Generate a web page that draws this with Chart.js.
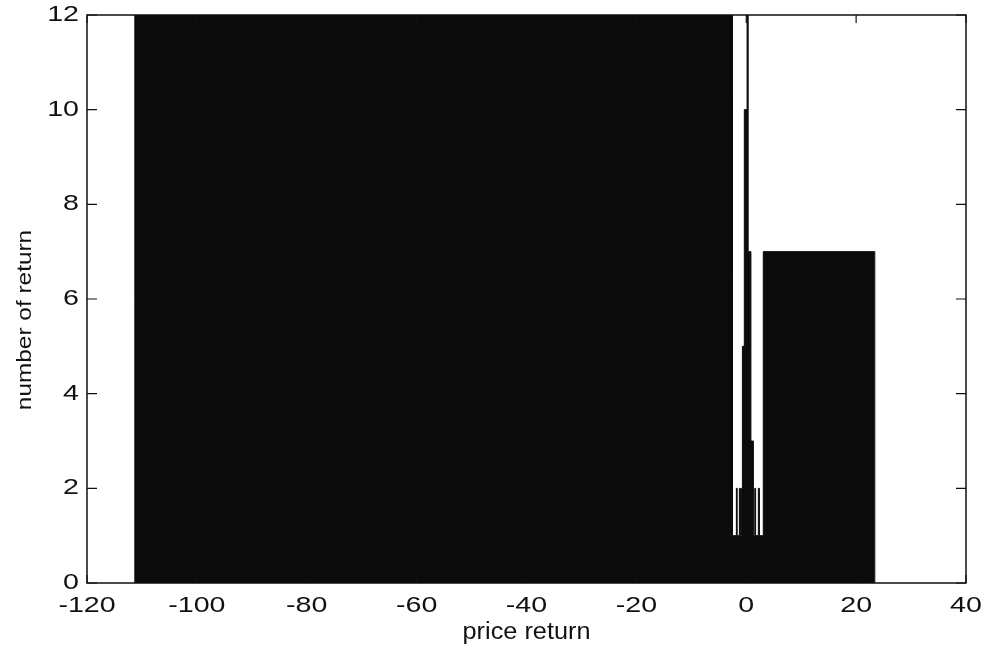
<!DOCTYPE html>
<html>
<head>
<meta charset="utf-8">
<script src="https://cdn.jsdelivr.net/npm/chart.js@4/dist/chart.umd.min.js"></script>
<style>
  html, body { margin: 0; padding: 0; background: #ffffff; }
  #wrap { width: 982px; height: 650px; }
</style>
</head>
<body>
<div id="wrap"><canvas id="hist" width="982" height="650"></canvas></div>
<script>
// Histogram of price returns: bin edges (one more than the counts) and counts per bin
const binEdges  = [-111.3, -2.5, -1.8, -1.65, -1.25, -1.05, -0.85, -0.7, -0.35, 0.15, 0.35, 0.85, 1.3, 1.55, 1.7, 2.2, 2.4, 3.1, 23.4];
const binCounts = [60, 1, 2, 1, 2, 1, 2, 5, 10, 13, 7, 3, 1, 2, 1, 2, 1, 7];
const xTicks = [-120, -100, -80, -60, -40, -20, 0, 20, 40];
const yTicks = [0, 2, 4, 6, 8, 10, 12];
const X_TITLE = 'price return';
const Y_TITLE = 'number of return';

const BAR = '#0b0b0b';
const INK = '#111111';
const FAMILY = '"Liberation Sans", Arial, Helvetica, sans-serif';
const TICK_SIZE = 22, XTITLE_SIZE = 23, YTITLE_SIZE = 20;
// Widening applied along the text direction, per font size
const STRETCH = { [TICK_SIZE]: 1.3, [XTITLE_SIZE]: 1.1, [YTITLE_SIZE]: 1.22 };

const canvas = document.getElementById('hist');
const ctx2d = canvas.getContext('2d');

// Labels are drawn wider along their baseline than the font's natural proportions
const plainFillText = ctx2d.fillText.bind(ctx2d);
ctx2d.fillText = function (text, x, y) {
  const m = /([\d.]+)px/.exec(this.font);
  const k = (m && STRETCH[Math.round(parseFloat(m[1]))]) || 1;
  this.save();
  this.translate(x, y);
  this.scale(k, 1);
  plainFillText(text, 0, 0);
  this.restore();
};

// Step outline of the histogram: each point holds its count until the next edge
const points = [{ x: binEdges[0], y: 0 }];
binCounts.forEach((c, i) => points.push({ x: binEdges[i], y: c }));
points.push({ x: binEdges[binEdges.length - 1], y: 0 });

// Boxed axes with tick marks pointing into the plot on all four sides,
// plus the vertical axis caption, set a little below the axis middle
const boxAxes = {
  id: 'boxAxes',
  afterDraw(chart) {
    const { ctx, chartArea: a, scales: { x, y } } = chart;
    ctx.save();
    ctx.strokeStyle = INK;
    ctx.lineWidth = 1.5;
    ctx.strokeRect(a.left, a.top, a.right - a.left, a.bottom - a.top);
    ctx.lineWidth = 1.2;
    ctx.beginPath();
    x.ticks.forEach(t => {
      const px = x.getPixelForValue(t.value);
      ctx.moveTo(px, a.bottom); ctx.lineTo(px, a.bottom - 8);
      ctx.moveTo(px, a.top);    ctx.lineTo(px, a.top + 8);
    });
    y.ticks.forEach(t => {
      const py = y.getPixelForValue(t.value);
      ctx.moveTo(a.left, py);  ctx.lineTo(a.left + 10, py);
      ctx.moveTo(a.right, py); ctx.lineTo(a.right - 10, py);
    });
    ctx.stroke();

    ctx.translate(a.left - 62, (a.top + a.bottom) / 2 + 21);
    ctx.rotate(-Math.PI / 2);
    ctx.font = YTITLE_SIZE + 'px ' + FAMILY;
    ctx.fillStyle = INK;
    ctx.textAlign = 'center';
    ctx.textBaseline = 'middle';
    ctx.fillText(Y_TITLE, 0, 0);
    ctx.restore();
  }
};

function noOverhang(s) {
  s.paddingLeft = 0; s.paddingRight = 0; s.paddingTop = 0; s.paddingBottom = 0;
}

new Chart(canvas, {
  type: 'line',
  data: {
    datasets: [{
      data: points,
      stepped: 'before',
      fill: 'origin',
      backgroundColor: BAR,
      borderColor: BAR,
      borderWidth: 1,
      pointRadius: 0,
      pointHoverRadius: 0
    }]
  },
  options: {
    responsive: false,
    animation: false,
    events: [],
    layout: { autoPadding: false, padding: { left: 0, right: 16, top: 15, bottom: 0 } },
    plugins: { legend: { display: false }, tooltip: { enabled: false } },
    scales: {
      x: {
        type: 'linear',
        min: -120,
        max: 40,
        grid: { display: false, drawTicks: false },
        border: { display: false },
        afterBuildTicks: s => { s.ticks = xTicks.map(v => ({ value: v })); },
        afterFit: s => { s.height = 67; noOverhang(s); },
        ticks: {
          autoSkip: false, maxRotation: 0, minRotation: 0, padding: 10,
          color: INK, font: { family: FAMILY, size: TICK_SIZE }
        },
        title: {
          display: true, text: X_TITLE, color: INK,
          font: { family: FAMILY, size: XTITLE_SIZE }, padding: { top: 0, bottom: 4 }
        }
      },
      y: {
        type: 'linear',
        min: 0,
        max: 12,
        grid: { display: false, drawTicks: false },
        border: { display: false },
        afterBuildTicks: s => { s.ticks = yTicks.map(v => ({ value: v })); },
        afterFit: s => { s.width = 87; noOverhang(s); },
        ticks: {
          padding: 8, color: INK, font: { family: FAMILY, size: TICK_SIZE }
        },
        title: { display: false }
      }
    }
  },
  plugins: [boxAxes]
});
</script>
</body>
</html>
